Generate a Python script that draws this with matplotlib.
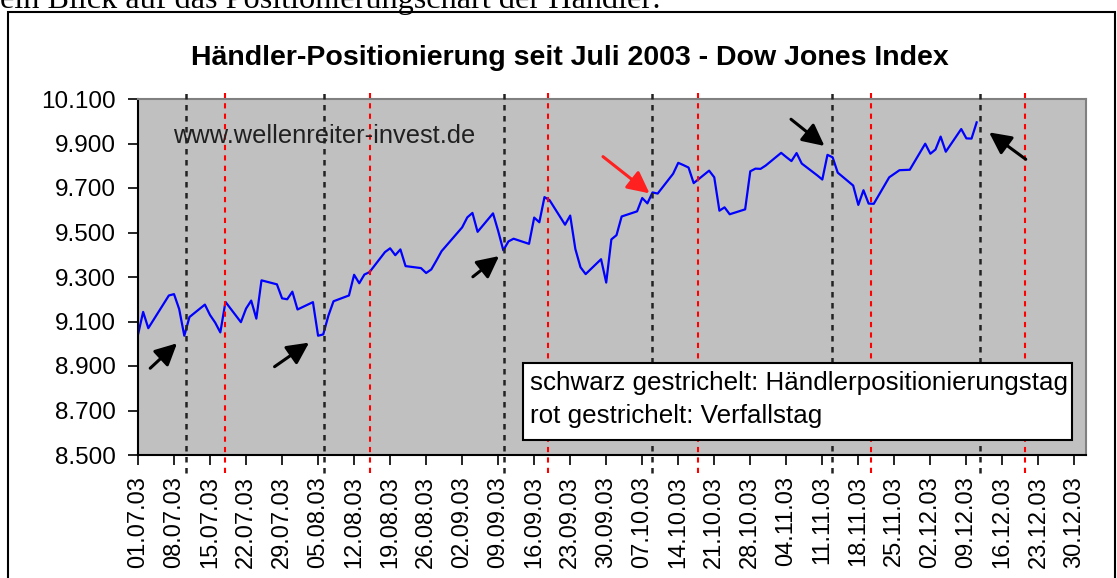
import numpy as np
import pandas as pd
import matplotlib
matplotlib.use("Agg")
import matplotlib.pyplot as plt
from matplotlib.patches import Rectangle
from matplotlib.ticker import FuncFormatter
import matplotlib.dates as mdates

# Dow Jones Index, daily closes
dates = pd.to_datetime([
    "2003-07-01", "2003-07-02", "2003-07-03", "2003-07-07", "2003-07-08", "2003-07-09",
    "2003-07-10", "2003-07-11", "2003-07-14", "2003-07-15", "2003-07-16", "2003-07-17",
    "2003-07-18", "2003-07-21", "2003-07-22", "2003-07-23", "2003-07-24", "2003-07-25",
    "2003-07-28", "2003-07-29", "2003-07-30", "2003-07-31", "2003-08-01", "2003-08-04",
    "2003-08-05", "2003-08-06", "2003-08-07", "2003-08-08", "2003-08-11", "2003-08-12",
    "2003-08-13", "2003-08-14", "2003-08-15", "2003-08-18", "2003-08-19", "2003-08-20",
    "2003-08-21", "2003-08-22", "2003-08-25", "2003-08-26", "2003-08-27", "2003-08-28",
    "2003-08-29", "2003-09-02", "2003-09-03", "2003-09-04", "2003-09-05", "2003-09-08",
    "2003-09-09", "2003-09-10", "2003-09-11", "2003-09-12", "2003-09-15", "2003-09-16",
    "2003-09-17", "2003-09-18", "2003-09-19", "2003-09-22", "2003-09-23", "2003-09-24",
    "2003-09-25", "2003-09-26", "2003-09-29", "2003-09-30", "2003-10-01", "2003-10-02",
    "2003-10-03", "2003-10-06", "2003-10-07", "2003-10-08", "2003-10-09", "2003-10-10",
    "2003-10-13", "2003-10-14", "2003-10-15", "2003-10-16", "2003-10-17", "2003-10-20",
    "2003-10-21", "2003-10-22", "2003-10-23", "2003-10-24", "2003-10-27", "2003-10-28",
    "2003-10-29", "2003-10-30", "2003-10-31", "2003-11-03", "2003-11-04", "2003-11-05",
    "2003-11-06", "2003-11-07", "2003-11-10", "2003-11-11", "2003-11-12", "2003-11-13",
    "2003-11-14", "2003-11-17", "2003-11-18", "2003-11-19", "2003-11-20", "2003-11-21",
    "2003-11-24", "2003-11-25", "2003-11-26", "2003-11-28", "2003-12-01", "2003-12-02",
    "2003-12-03", "2003-12-04", "2003-12-05", "2003-12-08", "2003-12-09", "2003-12-10",
    "2003-12-11",
])
dow = [
    9041, 9143, 9070, 9217, 9223, 9156,
    9036, 9120, 9176, 9129, 9095, 9051,
    9188, 9097, 9158, 9194, 9113, 9285,
    9267, 9204, 9200, 9234, 9154, 9187,
    9036, 9042, 9126, 9191, 9217, 9310,
    9272, 9311, 9322, 9412, 9429, 9398,
    9424, 9349, 9340, 9318, 9334, 9374,
    9416, 9523, 9568, 9588, 9503, 9586,
    9507, 9420, 9460, 9472, 9449, 9567,
    9546, 9659, 9645, 9535, 9576, 9426,
    9344, 9313, 9380, 9275, 9469, 9488,
    9572, 9595, 9655, 9631, 9680, 9675,
    9764, 9813, 9803, 9792, 9722, 9778,
    9748, 9598, 9613, 9582, 9604, 9775,
    9787, 9786, 9801, 9858, 9839, 9821,
    9857, 9810, 9757, 9738, 9849, 9838,
    9769, 9711, 9624, 9690, 9630, 9629,
    9748, 9764, 9780, 9782, 9899, 9854,
    9873, 9931, 9863, 9965, 9923, 9922,
    9995,
]

# dashed marker lines
black_lines = pd.to_datetime(["2003-07-10 06:00", "2003-08-06 02:00", "2003-09-10 02:00",
                              "2003-10-08 22:00", "2003-11-12 22:00", "2003-12-11 17:00"])
red_lines = pd.to_datetime(["2003-07-18 00:00", "2003-08-15 00:00", "2003-09-18 17:00",
                            "2003-10-17 19:00", "2003-11-20 10:00", "2003-12-20 10:00"])

# arrows: tail -> head
arrow_tail_x = pd.to_datetime(["2003-07-03 09:00", "2003-07-27 13:00", "2003-09-04 02:00",
                               "2003-09-29 09:00", "2003-11-04 22:00", "2003-12-20 13:00"])
arrow_tail_y = [8890, 8897, 9301, 9841, 10009, 9829]
arrow_head_x = pd.to_datetime(["2003-07-08 14:00", "2003-08-03 06:00", "2003-09-09 04:00",
                               "2003-10-08 10:00", "2003-11-11 10:00", "2003-12-13 10:00"])
arrow_head_y = [9002, 9005, 9394, 9676, 9889, 9950]
arrow_colors = ["black", "black", "black", "#ff2020", "black", "black"]

tick_dates = pd.date_range("2003-07-01", "2003-12-30", freq="7D")
y_ticks = [8500, 8700, 8900, 9100, 9300, 9500, 9700, 9900, 10100]

plt.rcParams['font.family'] = ['Liberation Sans', 'DejaVu Sans']

W, H = 1117, 578
fig = plt.figure(figsize=(W / 100, H / 100), dpi=100)

# page text above the chart (cut off at the top)
fig.text(0, 1 - 8 / H, "ein Blick auf das Positionierungschart der Händler:",
         family="Liberation Serif", fontsize=23.2, va="baseline", ha="left")

# chart frame
fig.patches.append(Rectangle((8 / W, -0.1), (1115 - 8) / W, 1.1 - 12 / H,
                             transform=fig.transFigure, fill=False,
                             edgecolor="black", linewidth=1.5))

ax = fig.add_axes([138 / W, 1 - 455 / H, (1086 - 138) / W, (455 - 99) / H])
ax.set_facecolor("#c0c0c0")

ax.plot(dates, dow, color="#0000ff", linewidth=1.6, zorder=2)

for d in black_lines:
    ax.axvline(d, ymin=-0.05, ymax=1.017, color="#222222", linewidth=1.8,
               dashes=(2.2, 2.2), clip_on=False, zorder=3)
for d in red_lines:
    ax.axvline(d, ymin=-0.05, ymax=1.017, color="#ff0000", linewidth=1.5,
               dashes=(2.5, 2.5), clip_on=False, zorder=3)

for tx, ty, hx, hy, c in zip(arrow_tail_x, arrow_tail_y, arrow_head_x, arrow_head_y, arrow_colors):
    ax.annotate("", xy=(hx, hy), xytext=(tx, ty),
                arrowprops=dict(arrowstyle="-|>,head_length=0.6,head_width=0.3",
                                color=c, lw=2.2, mutation_scale=22, shrinkA=0, shrinkB=0),
                zorder=4)

ax.text(0.037, 0.895, "www.wellenreiter-invest.de", transform=ax.transAxes,
        fontsize=18.3, color="#202020", va="center", ha="left", zorder=5)

# explanation box
ax.add_patch(Rectangle((0.406, 0.042), 0.579, 0.216, transform=ax.transAxes,
                       facecolor="white", edgecolor="black", linewidth=1.5, zorder=6))
ax.text(0.413, 0.203, "schwarz gestrichelt: Händlerpositionierungstag",
        transform=ax.transAxes, fontsize=18.7, va="center", ha="left", zorder=7)
ax.text(0.413, 0.110, "rot gestrichelt: Verfallstag",
        transform=ax.transAxes, fontsize=18.7, va="center", ha="left", zorder=7)

ax.set_xlim(pd.Timestamp("2003-07-01"), pd.Timestamp("2004-01-01 06:00"))
ax.set_ylim(8500, 10100)
ax.set_yticks(y_ticks)
ax.yaxis.set_major_formatter(FuncFormatter(lambda v, p: f"{v:,.0f}".replace(",", ".")))
ax.set_xticks(tick_dates)
ax.xaxis.set_major_formatter(mdates.DateFormatter("%d.%m.%y"))
ax.tick_params(axis="x", labelrotation=90, length=7, width=1.2, pad=8, labelsize=17)
ax.tick_params(axis="y", length=7, width=1.2, pad=9, labelsize=17.5)

for s in ["top", "right"]:
    ax.spines[s].set_color("#808080")
    ax.spines[s].set_linewidth(1.5)
for s in ["left", "bottom"]:
    ax.spines[s].set_color("black")
    ax.spines[s].set_linewidth(1.5)

fig.text(570 / W, 1 - 58 / H, "Händler-Positionierung seit Juli 2003 - Dow Jones Index",
         fontsize=20.5, fontweight="bold", ha="center", va="center")

fig.savefig("out.png", dpi=100)
